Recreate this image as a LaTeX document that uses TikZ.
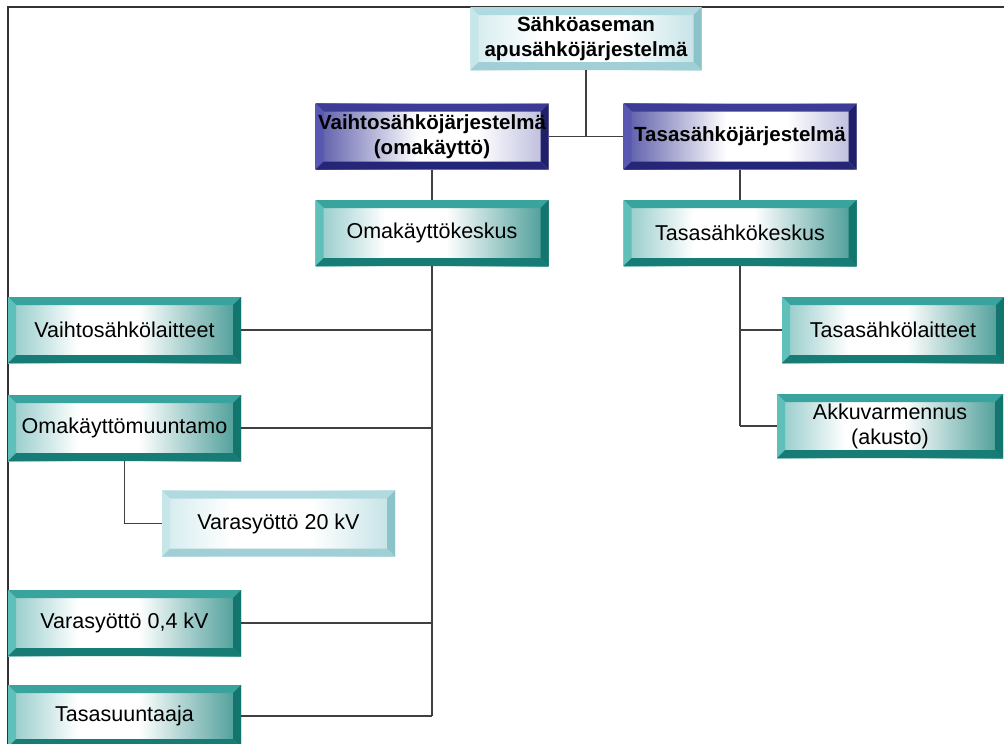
\documentclass[tikz,border=0pt]{standalone}
\usepackage{fontspec}
\setmainfont{Liberation Sans}
\usetikzlibrary{calc}
\definecolor{tealT}{HTML}{38A49D}
\definecolor{tealL}{HTML}{5EC0B9}
\definecolor{tealR}{HTML}{12766F}
\definecolor{tealB}{HTML}{177C75}
\definecolor{tealFL}{HTML}{8FC9C7}
\definecolor{tealFR}{HTML}{469A95}
\definecolor{blueT}{HTML}{3C3C96}
\definecolor{blueL}{HTML}{5858B2}
\definecolor{blueR}{HTML}{202068}
\definecolor{blueB}{HTML}{262679}
\definecolor{blueFL}{HTML}{5858A8}
\definecolor{blueFR}{HTML}{B8B8DC}
\definecolor{liteT}{HTML}{B0DADF}
\definecolor{liteL}{HTML}{C6E6E9}
\definecolor{liteR}{HTML}{8CC3C9}
\definecolor{liteB}{HTML}{A0D0D5}
\definecolor{liteFL}{HTML}{D3EBEE}
\definecolor{liteFR}{HTML}{C2E1E5}
\definecolor{linegray}{HTML}{404040}
\pgfdeclarehorizontalshading{tealface}{100bp}{color(0bp)=(tealFL); color(25bp)=(tealFL); color(40bp)=(white); color(53bp)=(white); color(75bp)=(tealFR); color(100bp)=(tealFR)}
\pgfdeclarehorizontalshading{blueface}{100bp}{color(0bp)=(blueFL); color(25bp)=(blueFL); color(47bp)=(white); color(60bp)=(white); color(75bp)=(blueFR); color(100bp)=(blueFR)}
\pgfdeclarehorizontalshading{liteface}{100bp}{color(0bp)=(liteFL); color(25bp)=(liteFL); color(40bp)=(white); color(57bp)=(white); color(75bp)=(liteFR); color(100bp)=(liteFR)}
\newcommand\bevelfill[4]{%
  \fill[#1] let \p1=(path picture bounding box.north west), \p2=(path picture bounding box.south east) in
    (\x1,\y1) -- (\x2,\y1) -- (\x2-8pt,\y1-8pt) -- (\x1+8pt,\y1-8pt) -- cycle;
  \fill[#2] let \p1=(path picture bounding box.north west), \p2=(path picture bounding box.south east) in
    (\x1,\y1) -- (\x1+8pt,\y1-8pt) -- (\x1+8pt,\y2+8pt) -- (\x1,\y2) -- cycle;
  \fill[#3] let \p1=(path picture bounding box.north west), \p2=(path picture bounding box.south east) in
    (\x2,\y1) -- (\x2,\y2) -- (\x2-8pt,\y2+8pt) -- (\x2-8pt,\y1-8pt) -- cycle;
  \fill[#4] let \p1=(path picture bounding box.north west), \p2=(path picture bounding box.south east) in
    (\x1,\y2) -- (\x1+8pt,\y2+8pt) -- (\x2-8pt,\y2+8pt) -- (\x2,\y2) -- cycle;
}
\tikzset{
  basebox/.style={rectangle, inner sep=0pt, minimum width=233pt, minimum height=66pt,
    align=center, font=\fontsize{21.5}{25}\selectfont, text=black},
  tealbox/.style={basebox, shading=tealface,
    path picture={\bevelfill{tealT}{tealL}{tealR}{tealB}}},
  bluebox/.style={basebox, shading=blueface,
    font=\fontsize{20.5}{25}\selectfont\bfseries,
    path picture={\bevelfill{blueT}{blueL}{blueR}{blueB}}},
  litebox/.style={basebox, shading=liteface,
    path picture={\bevelfill{liteT}{liteL}{liteR}{liteB}}},
  conn/.style={draw=linegray, line width=1.3pt},
  frame/.style={draw=black!80, line width=1.5pt}
}
\begin{document}
\begin{tikzpicture}[x=1pt,y=-1pt]
\useasboundingbox (0,0) rectangle (1004,744);
\fill[white] (0,0) rectangle (1004,744);
\draw[frame] (8,744) -- (8,7) -- (1004,7);

\node[litebox, minimum width=231pt, minimum height=63pt, font=\fontsize{20.5}{25}\selectfont\bfseries] (top) at (586,38.5) {Sähköaseman\\apusähköjärjestelmä};
\node[bluebox] (vs) at (432,136.5) {Vaihtosähköjärjestelmä\\(omakäyttö)};
\node[bluebox] (ts) at (740,136.5) {Tasasähköjärjestelmä};
\node[tealbox] (omk) at (432,233) {Omakäyttökeskus};
\node[tealbox] (tsk) at (740,233) {Tasasähkökeskus};
\node[tealbox] (vsl) at (124.5,330) {Vaihtosähkölaitteet};
\node[tealbox] (omm) at (124.5,428) {Omakäyttömuuntamo};
\node[litebox] (v20) at (278.5,523.5) {Varasyöttö 20 kV};
\node[tealbox] (v04) at (124.5,623) {Varasyöttö 0,4 kV};
\node[tealbox, minimum height=62pt] (tsu) at (124.5,716) {Tasasuuntaaja};
\node[tealbox, minimum width=222pt] (tsl) at (893,330) {Tasasähkölaitteet};
\node[tealbox, minimum width=226pt, minimum height=64pt] (akk) at (890,426) {Akkuvarmennus\\(akusto)};

\draw[conn] (top.south) -- (top.south |- ts.west);
\draw[conn] (vs.east) -- (ts.west);
\draw[conn] (vs.south) -- (omk.north);
\draw[conn] (ts.south) -- (tsk.north);
\draw[conn] (omk.south) -- (omk.south |- tsu.east);
\draw[conn] (vsl.east) -- (vsl.east -| omk.south);
\draw[conn] (omm.east) -- (omm.east -| omk.south);
\draw[conn] (v04.east) -- (v04.east -| omk.south);
\draw[conn] (tsu.east) -- (tsu.east -| omk.south);
\draw[conn] (omm.south) |- (v20.west);
\draw[conn] (tsk.south) -- (tsk.south |- akk.west);
\draw[conn] (tsk.south |- tsl.west) -- (tsl.west);
\draw[conn] (tsk.south |- akk.west) -- (akk.west);
\end{tikzpicture}
\end{document}
